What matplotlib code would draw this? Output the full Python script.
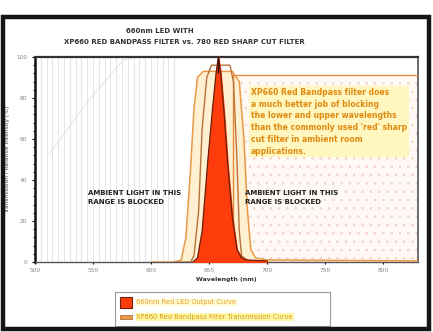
"""660nm LED output against band-pass and sharp-cut red filter transmission."""

import matplotlib
matplotlib.use("Agg")
import matplotlib.pyplot as plt
from matplotlib.patches import Rectangle
from matplotlib.ticker import MultipleLocator

plt.rcParams["hatch.linewidth"] = 0.6

# LED output (relative intensity, %)
led_nm = [636, 640, 644, 649, 653, 656, 658, 660, 663, 666, 670, 674, 678, 682, 700]
led_pct = [0, 2, 15, 50, 75, 92, 100, 92, 72, 48, 22, 6, 2, 1, 0.5]

# wide red filter transmission (%)
wide_nm = [600, 620, 626, 630, 634, 637, 640, 645, 670, 676, 680, 683, 686, 690, 700, 830]
wide_pct = [0, 0, 1, 12, 45, 75, 90, 93, 93, 88, 60, 25, 6, 2, 1, 0.5]

# band-pass filter transmission (%)
bp_nm = [620, 634, 637, 641, 644, 648, 652, 668, 671, 674, 676, 678, 684, 700]
bp_pct = [0, 0, 3, 25, 65, 90, 96, 96, 88, 50, 15, 3, 0.5, 0]

# sharp-cut plateau and the diagonal reference curve
sharp_level = 91
ref_nm = [513, 545, 576, 590]
ref_pct = [53, 78, 98.5, 100]

x_ticks = [500, 550, 600, 650, 700, 750, 800]
y_ticks = [0, 20, 40, 60, 80, 100]
left_block = (500, 625)
right_block = (671, 830)

note = ("XP660 Red Bandpass filter does\n"
        "a much better job of blocking\n"
        "the lower and upper wavelengths\n"
        "than the commonly used 'red' sharp\n"
        "cut filter in ambient room\n"
        "applications.")

fig = plt.figure(figsize=(4.33, 3.32), dpi=100)
fig.patch.set_facecolor("white")

# dark frame around the whole sheet
fig.patches.append(Rectangle((0.006, 0.01), 0.985, 0.94, transform=fig.transFigure,
                             fill=False, edgecolor="#151515", linewidth=3.2))

ax = fig.add_axes([35 / 433, 70 / 332, 383 / 433, 205 / 332])
ax.set_xlim(500, 830)
ax.set_ylim(0, 100)

# blocked ranges: vertical rules on the left, dotted box on the right
ax.vlines(range(left_block[0] + 5, left_block[1], 5), 0, 100, color="#dadada", lw=0.5, zorder=1)
ax.add_patch(Rectangle((right_block[0], 0), right_block[1] - right_block[0], sharp_level,
                       facecolor="#fffaf6", edgecolor="#f5d2c4", hatch="..", lw=0, zorder=1))
ax.plot([right_block[0], right_block[0], right_block[1]], [0, sharp_level, sharp_level],
        color="#e88a3a", lw=1.0, zorder=3)
ax.plot(ref_nm, ref_pct, color="#e4e4e4", lw=0.7, zorder=1)

# filter curves
ax.fill_between(wide_nm, wide_pct, color="#fff0d2", zorder=2)
ax.plot(wide_nm, wide_pct, color="#e99a4a", lw=1.1, zorder=3)
ax.plot(bp_nm, bp_pct, color="#b8733a", lw=1.0, zorder=3)

# LED emission
ax.fill_between(led_nm, led_pct, color="#ff3c0c", zorder=4)
ax.plot(led_nm, led_pct, color="#6b2008", lw=0.9, zorder=5)
ax.vlines(658, 92, 100, color="#301008", lw=1.0, zorder=5)

ax.text(546, 31.5, "AMBIENT LIGHT IN THIS\nRANGE IS BLOCKED", fontsize=5, fontweight="bold",
        color="#222222", va="center", ha="left", linespacing=1.5, zorder=6)
ax.text(681, 31.5, "AMBIENT LIGHT IN THIS\nRANGE IS BLOCKED", fontsize=5, fontweight="bold",
        color="#222222", va="center", ha="left", linespacing=1.5, zorder=6)
ax.text(686, 85, note, fontsize=5.5, fontweight="bold", color="#e08a10", va="top", ha="left",
        linespacing=1.4, zorder=6,
        bbox=dict(boxstyle="square,pad=0.2", facecolor="#fff6c0", edgecolor="none"))

ax.set_xticks(x_ticks)
ax.set_yticks(y_ticks)
ax.yaxis.set_minor_locator(MultipleLocator(4))
ax.tick_params(axis="both", labelsize=4.2, labelcolor="#888888", length=2.5, width=0.8, pad=3)
ax.tick_params(axis="y", which="minor", length=1.8, width=0.6)
ax.tick_params(axis="x", length=1.5)
for side, lw, col in [("left", 1.8, "#111111"), ("top", 1.6, "#333333"),
                      ("right", 1.2, "#555555"), ("bottom", 1.0, "#555555")]:
    ax.spines[side].set_linewidth(lw)
    ax.spines[side].set_color(col)

ax.set_xlabel("Wavelength (nm)", fontsize=4.5, fontweight="bold", color="#333333", labelpad=3)
ax.set_ylabel("Transmission / Relative Intensity (%)", fontsize=4.2, color="#444444")
ax.yaxis.set_label_coords(-0.065, 0.5)

fig.text(160 / 433, 1 - 31 / 332, "660nm LED WITH", fontsize=5, color="#333333",
         ha="center", va="center", fontweight="bold")
fig.text(184 / 433, 1 - 42 / 332, "XP660 RED BANDPASS FILTER vs. 780 RED SHARP CUT FILTER",
         fontsize=5, color="#333333", ha="center", va="center", fontweight="bold")

# legend panel
leg = fig.add_axes([115 / 433, 6 / 332, 215 / 433, 34 / 332])
leg.set_xlim(0, 1)
leg.set_ylim(0, 1)
leg.set_xticks([])
leg.set_yticks([])
for s in leg.spines.values():
    s.set_color("#9a9a9a")
    s.set_linewidth(0.8)
leg.add_patch(Rectangle((0.025, 0.52), 0.055, 0.34, facecolor="#ff3c0c", edgecolor="#6b2008", lw=0.8))
leg.add_patch(Rectangle((0.025, 0.2), 0.055, 0.12, facecolor="#e99a4a", edgecolor="#b8733a", lw=0.6))
leg.text(0.1, 0.7, "660nm Red LED Output Curve", fontsize=4.8, color="#e8a030", va="center",
         bbox=dict(boxstyle="square,pad=0.1", facecolor="#fffbd0", edgecolor="none"))
leg.text(0.1, 0.26, "XP660 Red Bandpass Filter Transmission Curve", fontsize=4.8, color="#d89a10",
         va="center", bbox=dict(boxstyle="square,pad=0.1", facecolor="#fff7a8", edgecolor="none"))

fig.savefig("out.png", dpi=100)
